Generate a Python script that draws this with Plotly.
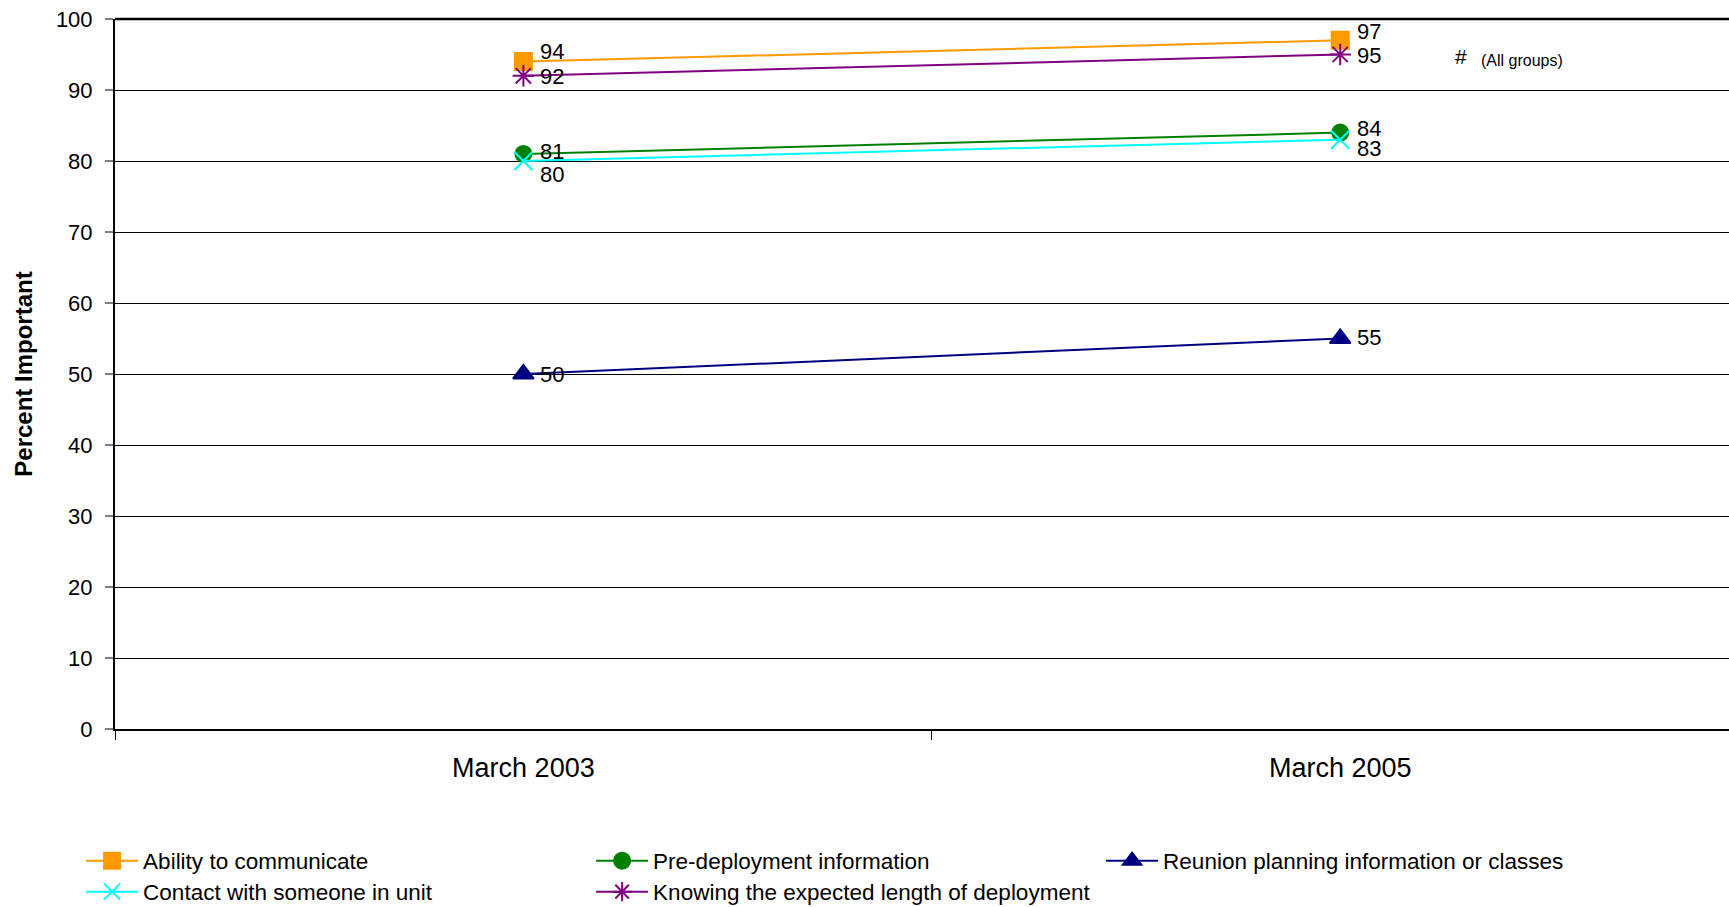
import plotly.graph_objects as go

periods = ["March 2003", "March 2005"]
series_names = [
    "Ability to communicate",
    "Pre-deployment information",
    "Reunion planning information or classes",
    "Contact with someone in unit",
    "Knowing the expected length of deployment",
]
ability = [94, 97]
predeploy = [81, 84]
reunion = [50, 55]
contact = [80, 83]
knowing = [92, 95]
y_ticks = [0, 10, 20, 30, 40, 50, 60, 70, 80, 90, 100]

values = [ability, predeploy, reunion, contact, knowing]
colors = ["#FF9900", "#008000", "#000080", "#00FFFF", "#800080"]
symbols = ["square", "circle", "triangle-up", "x-thin-open", "asterisk-open"]
sizes = [17, 16, 18, 18, 18]
legend_rows = ["legend", "legend", "legend", "legend2", "legend2"]
# vertical offsets (px) of data labels, per series and period
label_shift = [[10, 9], [2, 4], [0, 1], [-13, -9], [-1, -1]]

FONT = "Liberation Sans, Arial, sans-serif"

W, H = 1729, 907
ML, MR, MT, MB = 115, 0, 19, 178
pw = W - ML - MR
ph = H - MT - MB

fig = go.Figure()
for name, vals, col, sym, sz, lg in zip(series_names, values, colors, symbols, sizes, legend_rows):
    fig.add_trace(go.Scatter(
        x=periods, y=vals, name=name, mode="lines+markers",
        line=dict(color=col, width=2),
        marker=dict(symbol=sym, size=sz, color=col, line=dict(color=col, width=2)),
        hoverinfo="x+y+name", legend=lg,
    ))

annotations = []
for vals, shifts in zip(values, label_shift):
    for p, v, s in zip(periods, vals, shifts):
        annotations.append(dict(
            x=p, y=v, xref="x", yref="y", text=str(v), showarrow=False,
            xanchor="left", yanchor="middle", xshift=15, yshift=s,
            font=dict(family=FONT, size=22, color="#000000"),
        ))
annotations.append(dict(
    x=(1461 - ML) / pw, y=(H - MB - 56) / ph, xref="paper", yref="paper", text="#",
    showarrow=False, xanchor="center", yanchor="middle",
    font=dict(family=FONT, size=21, color="#000000"),
))
annotations.append(dict(
    x=(1479 - ML) / pw, y=(H - MB - 60) / ph, xref="paper", yref="paper", text="(All groups)",
    showarrow=False, xanchor="left", yanchor="middle",
    font=dict(family=FONT, size=16, color="#000000"),
))

legend_common = dict(
    orientation="h", xanchor="left", yanchor="middle",
    entrywidth=443, itemwidth=52, traceorder="normal",
    font=dict(family=FONT, size=22.5, color="#000000"),
    tracegroupgap=0, bgcolor="rgba(0,0,0,0)",
)
row1_y, row2_y = 861, 892
fig.update_layout(
    width=W, height=H,
    margin=dict(l=ML, r=MR, t=MT, b=MB, autoexpand=False),
    paper_bgcolor="#FFFFFF", plot_bgcolor="#FFFFFF",
    font=dict(family=FONT, color="#000000"),
    showlegend=True,
    legend=dict(x=-0.021, y=(H - MB - row1_y) / ph, **legend_common),
    legend2=dict(x=-0.021, y=(H - MB - row2_y) / ph, **legend_common),
    xaxis=dict(
        type="category", range=[-0.5, 1.476], automargin=False,
        showgrid=False, showline=True, linecolor="#000000", linewidth=2,
        ticks="outside", tickson="boundaries", ticklen=9, tickcolor="#000000", tickwidth=1,
        tickfont=dict(family=FONT, size=27, color="#000000"),
        ticklabelstandoff=14, zeroline=False,
    ),
    yaxis=dict(
        range=[0, 100], tickvals=y_ticks, automargin=False,
        showgrid=True, gridcolor="#000000", gridwidth=1,
        showline=True, linecolor="#000000", linewidth=2,
        ticks="outside", ticklen=8, tickcolor="#808080", tickwidth=2,
        tickfont=dict(family=FONT, size=22, color="#000000"),
        ticklabelstandoff=8, zeroline=False,
        title=dict(text="<b>Percent Important</b>", font=dict(family=FONT, size=24, color="#000000"), standoff=16),
    ),
    shapes=[dict(type="line", xref="paper", yref="paper", x0=0, x1=1, y0=1, y1=1,
                 line=dict(color="#000000", width=2.5))],
    annotations=annotations,
)

fig.write_html(
    "out.html",
    config={"displayModeBar": False},
    post_script="document.body.style.margin='0';document.body.style.overflow='hidden';",
)
